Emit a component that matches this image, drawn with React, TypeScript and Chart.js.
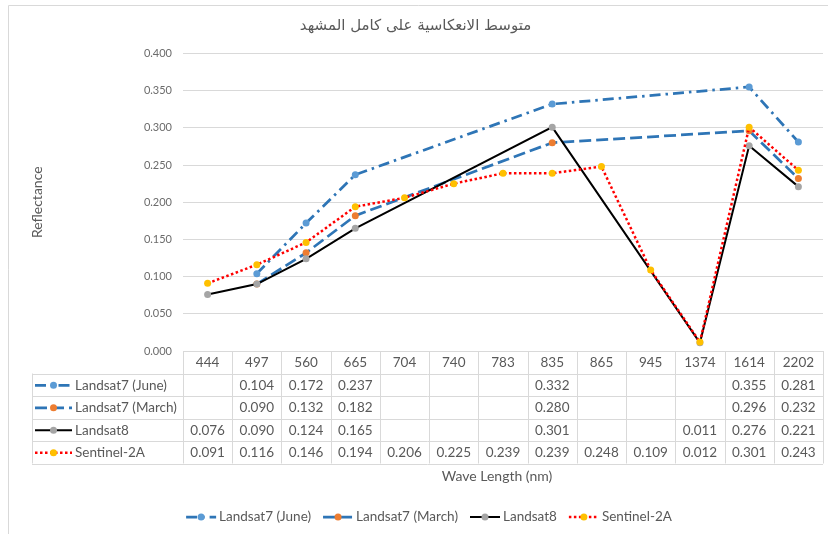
import React, { useEffect, useRef } from "react";
import { Chart, registerables } from "chart.js";

Chart.register(...registerables);

const chartTitle = "متوسط الانعكاسية على كامل المشهد";
const xTitle = "Wave Length (nm)";
const yTitle = "Reflectance";

const wavelengths = ["444", "497", "560", "665", "704", "740", "783", "835", "865", "945", "1374", "1614", "2202"];

const seriesNames = ["Landsat7 (June)", "Landsat7 (March)", "Landsat8", "Sentinel-2A"];

const landsat7June = [null, 0.104, 0.172, 0.237, null, null, null, 0.332, null, null, null, 0.355, 0.281];
const landsat7March = [null, 0.09, 0.132, 0.182, null, null, null, 0.28, null, null, null, 0.296, 0.232];
const landsat8 = [0.076, 0.09, 0.124, 0.165, null, null, null, 0.301, null, null, 0.011, 0.276, 0.221];
const sentinel2A = [0.091, 0.116, 0.146, 0.194, 0.206, 0.225, 0.239, 0.239, 0.248, 0.109, 0.012, 0.301, 0.243];

const yTicks = [0, 0.05, 0.1, 0.15, 0.2, 0.25, 0.3, 0.35, 0.4];

const FONT = "Lato, 'Open Sans', sans-serif";
const TEXT = "#595959";
const GRID = "#D9D9D9";

function drawKey(ctx: CanvasRenderingContext2D, ds: any, x0: number, x1: number, y: number) {
  ctx.save();
  ctx.strokeStyle = ds.borderColor;
  ctx.lineWidth = ds.borderWidth;
  ctx.setLineDash(ds.borderDash || []);
  ctx.lineCap = "butt";
  ctx.beginPath();
  ctx.moveTo(x0, y);
  ctx.lineTo(x1, y);
  ctx.stroke();
  ctx.setLineDash([]);
  ctx.fillStyle = ds.pointBackgroundColor;
  ctx.beginPath();
  ctx.arc((x0 + x1) / 2, y, ds.pointRadius, 0, Math.PI * 2);
  ctx.fill();
  ctx.restore();
}

const tablePlugin = {
  id: "dataTable",
  afterDraw(chart: any) {
    const ctx: CanvasRenderingContext2D = chart.ctx;
    const area = chart.chartArea;
    const xs = chart.scales.x;
    const datasets = chart.data.datasets;
    const labels = chart.data.labels as string[];
    const n = labels.length;
    const colW = (area.right - area.left) / n;
    const rowH = 22.5;
    const top = area.bottom;
    const labelLeft = 32;
    const rows = datasets.length;
    const tableBottom = top + rowH * (rows + 1);

    ctx.save();
    // outer chart border (top and left)
    ctx.strokeStyle = GRID;
    ctx.lineWidth = 1;
    ctx.beginPath();
    ctx.moveTo(8.5, 534);
    ctx.lineTo(8.5, 5.5);
    ctx.lineTo(828, 5.5);
    ctx.stroke();

    // table grid
    ctx.beginPath();
    for (let r = 1; r <= rows + 1; r++) {
      const y = Math.round(top + rowH * r) + 0.5;
      ctx.moveTo(labelLeft, y);
      ctx.lineTo(area.right, y);
    }
    for (let c = 0; c <= n; c++) {
      const x = Math.round(area.left + colW * c) + 0.5;
      ctx.moveTo(x, top);
      ctx.lineTo(x, tableBottom);
    }
    ctx.moveTo(labelLeft + 0.5, top + rowH);
    ctx.lineTo(labelLeft + 0.5, tableBottom);
    ctx.stroke();

    ctx.fillStyle = TEXT;
    ctx.font = `13.5px ${FONT}`;
    ctx.textBaseline = "middle";
    ctx.textAlign = "center";
    for (let c = 0; c < n; c++) {
      const cx = xs.getPixelForValue(c);
      ctx.fillText(labels[c], cx, top + rowH / 2 + 0.5);
    }
    datasets.forEach((ds: any, r: number) => {
      const cy = top + rowH * (r + 1.5) + 0.5;
      ds.data.forEach((v: number | null, c: number) => {
        if (v === null || v === undefined) return;
        ctx.textAlign = "center";
        ctx.fillText(v.toFixed(3), xs.getPixelForValue(c), cy);
      });
      drawKey(ctx, ds, 35, 72, cy);
      ctx.fillStyle = TEXT;
      ctx.textAlign = "left";
      ctx.fillText(ds.label, 75, cy);
    });

    // x axis title
    ctx.font = `14px ${FONT}`;
    ctx.textAlign = "center";
    ctx.fillText(xTitle, (area.left + area.right) / 2 - 6, 476);

    // legend
    ctx.font = `13.5px ${FONT}`;
    const keyW = 30;
    const gap = 3;
    const spacing = 12;
    const widths = datasets.map((ds: any) => keyW + gap + ctx.measureText(ds.label).width);
    const total = widths.reduce((a: number, b: number) => a + b, 0) + spacing * (datasets.length - 1);
    let x = 429 - total / 2;
    const ly = 517;
    datasets.forEach((ds: any, i: number) => {
      drawKey(ctx, ds, x, x + keyW, ly);
      ctx.fillStyle = TEXT;
      ctx.textAlign = "left";
      ctx.fillText(ds.label, x + keyW + gap, ly);
      x += widths[i] + spacing;
    });
    ctx.restore();
  },
};

export default function App() {
  const canvasRef = useRef<HTMLCanvasElement | null>(null);

  useEffect(() => {
    if (!canvasRef.current) return;
    const chart = new Chart(canvasRef.current, {
      type: "line",
      data: {
        labels: wavelengths,
        datasets: [
          {
            label: seriesNames[0],
            data: landsat7June,
            borderColor: "#2E75B6",
            borderWidth: 2.75,
            borderDash: [11, 5, 2.5, 5],
            pointBackgroundColor: "#5B9BD5",
            pointBorderColor: "#5B9BD5",
            pointRadius: 3.5,
            pointBorderWidth: 0,
            spanGaps: true,
            order: 4,
          },
          {
            label: seriesNames[1],
            data: landsat7March,
            borderColor: "#2E75B6",
            borderWidth: 2.75,
            borderDash: [12, 5],
            pointBackgroundColor: "#ED7D31",
            pointBorderColor: "#ED7D31",
            pointRadius: 3.5,
            pointBorderWidth: 0,
            spanGaps: true,
            order: 3,
          },
          {
            label: seriesNames[2],
            data: landsat8,
            borderColor: "#000000",
            borderWidth: 2,
            pointBackgroundColor: "#A5A5A5",
            pointBorderColor: "#A5A5A5",
            pointRadius: 3.5,
            pointBorderWidth: 0,
            spanGaps: true,
            order: 2,
          },
          {
            label: seriesNames[3],
            data: sentinel2A,
            borderColor: "#FF0000",
            borderWidth: 2.5,
            borderDash: [2.5, 2.5],
            pointBackgroundColor: "#FFC000",
            pointBorderColor: "#FFC000",
            pointRadius: 3.5,
            pointBorderWidth: 0,
            spanGaps: true,
            order: 1,
          },
        ],
      },
      options: {
        responsive: false,
        animation: false,
        layout: { padding: { left: 8, right: 5, top: 5, bottom: 183 } },
        plugins: {
          legend: { display: false },
          tooltip: { enabled: false },
          title: {
            display: true,
            text: chartTitle,
            color: TEXT,
            font: { family: "'DejaVu Sans', sans-serif", size: 15, weight: "normal" },
            padding: { top: 12, bottom: 18.5 },
          },
        },
        scales: {
          x: {
            display: false,
            offset: true,
          },
          y: {
            min: 0,
            max: 0.4,
            afterBuildTicks: (scale: any) => {
              scale.ticks = yTicks.map((v) => ({ value: v }));
            },
            afterFit: (scale: any) => {
              scale.width = 175;
            },
            ticks: {
              color: "#6b6b6b",
              font: { family: FONT, size: 11 },
              padding: 11,
              callback: (v: any) => Number(v).toFixed(3),
            },
            grid: { color: GRID, drawTicks: false },
            border: { display: false },
            title: {
              display: true,
              text: yTitle,
              color: TEXT,
              font: { family: FONT, size: 14 },
              padding: { top: 21, bottom: 0 },
            },
          },
        },
      },
      plugins: [tablePlugin],
    });
    return () => chart.destroy();
  }, []);

  return (
    <div style={{ position: "absolute", left: 0, top: 0, width: 828, height: 534, background: "#fff" }}>
      <canvas ref={canvasRef} width={828} height={534} />
    </div>
  );
}
